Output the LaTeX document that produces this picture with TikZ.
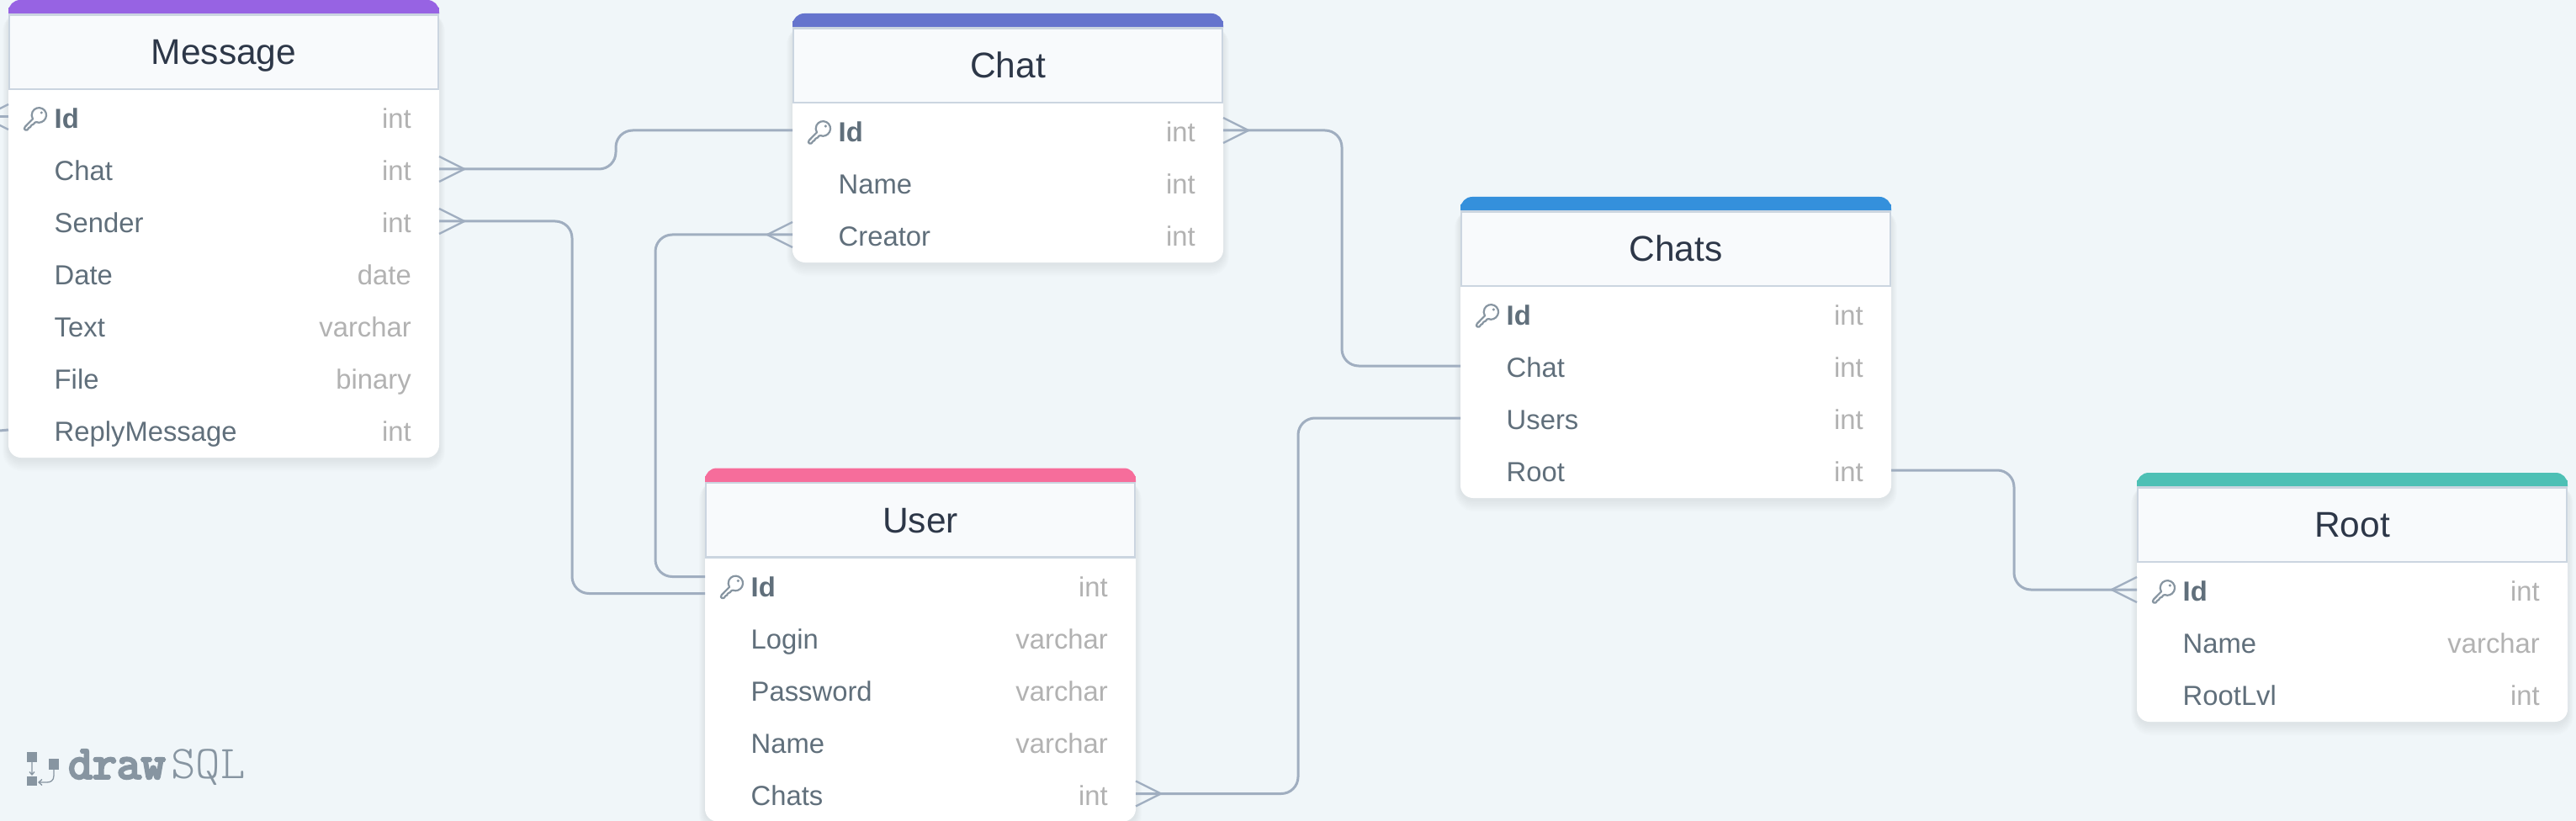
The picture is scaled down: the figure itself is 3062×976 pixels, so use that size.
\documentclass[tikz,border=0pt]{standalone}
\usepackage{fontspec}
\setmainfont{Liberation Sans}
\newfontfamily\logobold[FakeBold=5]{Latin Modern Mono}
\newfontfamily\logolight{Latin Modern Mono Light}
\definecolor{bgc}{HTML}{F0F6F9}
\definecolor{cMsg}{HTML}{9763E3}
\definecolor{cChat}{HTML}{6574CD}
\definecolor{cChats}{HTML}{3490DC}
\definecolor{cUser}{HTML}{F66D9B}
\definecolor{cRoot}{HTML}{4DC0B5}
\definecolor{hdr}{HTML}{F8FAFC}
\definecolor{hdrline}{HTML}{CBD5E0}
\definecolor{titlec}{HTML}{2D3748}
\definecolor{rowc}{HTML}{606F7B}
\definecolor{typec}{HTML}{B2B2B2}
\definecolor{linec}{HTML}{A0AEC0}
\definecolor{keyc}{HTML}{8795A1}
\tikzset{
  tablebody/.style={rectangle,rounded corners=15pt,fill=white,minimum width=512pt,inner sep=0pt,outer sep=0pt,anchor=north west},
  headbox/.style={rectangle,fill=hdr,draw=hdrline,line width=2.6pt,minimum width=510pt,minimum height=88.7pt,inner sep=0pt,outer sep=0pt},
  rowbox/.style={rectangle,minimum width=512pt,minimum height=62pt,inner sep=0pt,outer sep=0pt},
  titletext/.style={anchor=base,inner sep=0pt,text=titlec,font=\fontsize{42.5}{46}\selectfont},
  nametext/.style={anchor=base west,inner sep=0pt,text=rowc,font=\fontsize{32.8}{36}\selectfont},
  typetext/.style={anchor=base east,inner sep=0pt,text=typec,font=\fontsize{32.8}{36}\selectfont},
  conn/.style={draw=linec,line width=3pt,rounded corners=20pt},
  foot/.style={draw=linec,line width=2.4pt},
  keystroke/.style={draw=keyc,line width=2.2pt,line join=round,rounded corners=1.2pt},
}
% #1 name, #2 x, #3 top, #4 title, #5 colour, #6 number of rows, #7 further rows
\newcommand{\tbl}[7]{%
  \foreach \k in {1,...,9}{%
    \pgfmathsetmacro{\rr}{15+\k}%
    \fill[black,opacity=.008,rounded corners=\rr pt] ({#2-\k*.8},{#3+14}) rectangle ({#2+512+\k*.8},{#3+110+62*#6+2+1.6*\k});
  }%
  \node[tablebody,minimum height={110pt+62pt*#6}] (#1) at (#2,#3) {};
  \fill[#5,rounded corners=14pt] (#2,{#3+17}) -- (#2,#3) -- ({#2+512},#3) -- ({#2+512},{#3+17});
  \fill[#5] (#2,{#3+9}) rectangle ({#2+512},{#3+16.5});
  \node[headbox] (#1-h) at ({#2+256},{#3+61.7}) {};
  \node[titletext] (#1-title) at ({#2+256},{#3+76.5}) {#4};
  \node[rowbox] (#1-1) at ({#2+256},{#3+139}) {};
  \node[nametext,font=\fontsize{32.8}{36}\selectfont\bfseries] (#1-1n) at ({#2+54.5},{#3+152.5}) {Id};
  \node[typetext] (#1-1t) at ({#2+479},{#3+152.5}) {int};
  \begin{scope}[shift={({#2+18},{#3+128})}]
    \draw[keystroke] (11.3,13) -- (1,23.5) -- (1,26.5) -- (5.5,26.5) -- (5.5,23.6) -- (8.6,23.6) -- (8.6,20.6) -- (11,20.6) -- (14.4,16.6) arc[start angle=117,end angle=-212,radius=8.7];
    \fill[keyc] (21.3,6) circle[radius=1.7];
  \end{scope}
  \foreach \nm/\ty [count=\i from 2] in {#7}{%
    \node[rowbox] (#1-\i) at ({#2+256},{#3+139+62*(\i-1)}) {};
    \node[nametext] (#1-\i n) at ({#2+54.5},{#3+152.5+62*(\i-1)}) {\nm};
    \node[typetext] (#1-\i t) at ({#2+479},{#3+152.5+62*(\i-1)}) {\ty};
  }%
}
\newcommand{\crowR}[1]{\draw[foot] ([yshift=15pt]#1.east) -- ([xshift=30pt]#1.east) -- ([yshift=-15pt]#1.east);}
\newcommand{\crowL}[1]{\draw[foot] ([yshift=15pt]#1.west) -- ([xshift=-30pt]#1.west) -- ([yshift=-15pt]#1.west);}
\begin{document}
\begin{tikzpicture}[x=1pt,y=-1pt]
\useasboundingbox (0,0) rectangle (3062,976);
\clip (0,0) rectangle (3062,976);
\fill[bgc] (0,0) rectangle (3062,976);

\tbl{msg}{10}{0}{Message}{cMsg}{7}{Chat/int,Sender/int,Date/date,Text/varchar,File/binary,ReplyMessage/int}
\tbl{chat}{942}{16}{Chat}{cChat}{3}{Name/int,Creator/int}
\tbl{usr}{838}{556.5}{User}{cUser}{5}{Login/varchar,Password/varchar,Name/varchar,Chats/int}
\tbl{chats}{1736}{234}{Chats}{cChats}{4}{Chat/int,Users/int,Root/int}
\tbl{root}{2540}{562}{Root}{cRoot}{3}{Name/varchar,RootLvl/int}

\coordinate (viaA) at (732,0);
\coordinate (viaB) at (680,0);
\coordinate (viaC) at (779,0);
\coordinate (viaD) at (1595,0);
\coordinate (viaE) at (1543,0);
\coordinate (viaF) at (2394,0);
\coordinate (stubA) at (0,139);
\coordinate (stubB) at (0,512);

% Message.Chat -- Chat.Id
\draw[conn] (msg-2.east) -- (msg-2.east -| viaA) -- (chat-1.west -| viaA) -- (chat-1.west);
\crowR{msg-2}
% Message.Sender -- User.Id
\draw[conn] (msg-3.east) -- (msg-3.east -| viaB) -- ([yshift=-10pt]usr-1.west -| viaB) -- ([yshift=-10pt]usr-1.west);
\crowR{msg-3}
% Chat.Creator -- User.Id
\draw[conn] (chat-3.west) -- (chat-3.west -| viaC) -- ([yshift=10pt]usr-1.west -| viaC) -- ([yshift=10pt]usr-1.west);
\crowL{chat-3}
% Chat.Id -- Chats.Chat
\draw[conn] (chat-1.east) -- (chat-1.east -| viaD) -- (chats-2.west -| viaD) -- (chats-2.west);
\crowR{chat-1}
% User.Chats -- Chats.Users
\draw[conn] (usr-5.east) -- (usr-5.east -| viaE) -- (chats-3.west -| viaE) -- (chats-3.west);
\crowR{usr-5}
% Chats.Root -- Root.Id
\draw[conn] (chats-4.east) -- (chats-4.east -| viaF) -- (root-1.west -| viaF) -- (root-1.west);
\crowL{root-1}
% stubs at the left border
\draw[conn] (msg-1.west) -- (stubA);
\crowL{msg-1}
\draw[conn] (msg-7.west) -- (stubB);

% logo
\fill[keyc] (32,894) rectangle (44,905.5);
\fill[keyc] (32,923) rectangle (44,934);
\fill[keyc] (58,902) rectangle (70,914.5);
\draw[keyc,line width=1.3pt] (38,906) -- (38,921) (35,917.5) -- (38,921) -- (41,917.5);
\draw[keyc,line width=1.3pt] (64,915) -- (64,922) .. controls (64,928) and (60,930) .. (56,930) -- (46,930) (50,926.5) -- (46,930) -- (50,933.5);
\node[anchor=base west,inner sep=0pt,text=keyc,font=\logobold\fontsize{56}{60}\selectfont] (logoA) at (81,925.5) {draw};
\node[anchor=base west,inner sep=0pt,text=keyc,font=\logolight\fontsize{56}{60}\selectfont] (logoB) at (203,925.5) {SQL};
\end{tikzpicture}
\end{document}
